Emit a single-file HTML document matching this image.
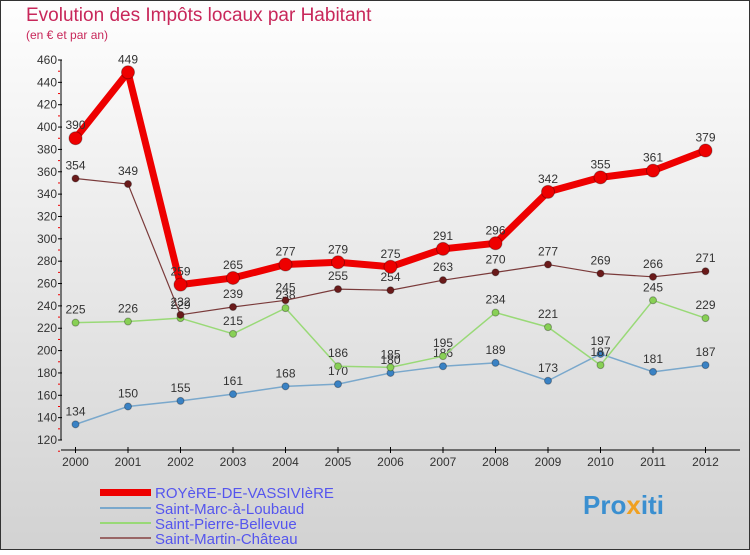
<!DOCTYPE html>
<html><head><meta charset="utf-8"><style>
body{margin:0}
#c{width:750px;height:550px;position:relative;font-family:"Liberation Sans",sans-serif}
</style></head><body>
<div id="c">
<svg id="s" width="750" height="550" xmlns="http://www.w3.org/2000/svg">
<defs><linearGradient id="bg" x1="0" y1="0" x2="0" y2="1"><stop offset="0" stop-color="#fefefe"/><stop offset="1" stop-color="#d2d2d2"/></linearGradient></defs>
<rect x="0.5" y="0.5" width="749" height="549" fill="url(#bg)" stroke="#333"/>
<text x="26" y="21" font-size="19" fill="#c8275a">Evolution des Impôts locaux par Habitant</text>
<text x="26" y="39" font-size="12" fill="#c8275a">(en € et par an)</text>
<g id="axes"></g><g id="series"></g>
<g>
<rect x="100" y="489" width="51" height="7" fill="#e00"/>
<text x="155" y="498" font-size="15" fill="#5555ee">ROYèRE-DE-VASSIVIèRE</text>
<rect x="100" y="507" width="51" height="2" fill="#7aa8cc"/>
<text x="155" y="514" font-size="15" fill="#5555ee">Saint-Marc-à-Loubaud</text>
<rect x="100" y="522" width="51" height="2" fill="#99d977"/>
<text x="155" y="529" font-size="15" fill="#5555ee">Saint-Pierre-Bellevue</text>
<rect x="100" y="537" width="51" height="2" fill="#996666"/>
<text x="155" y="544" font-size="15" fill="#5555ee">Saint-Martin-Château</text>
</g>
<text x="583" y="514" font-size="26" font-weight="bold" fill="#3a8fd0">Pro<tspan fill="#f0a020">x</tspan><tspan fill="#3a8fd0">iti</tspan></text>
</svg>
</div>
<script>
const years=[2000,2001,2002,2003,2004,2005,2006,2007,2008,2009,2010,2011,2012];
const royere=[390,449,259,265,277,279,275,291,296,342,355,361,379];
const saintMarc=[134,150,155,161,168,170,180,186,189,173,197,181,187];
const saintPierre=[225,226,229,215,238,186,185,195,234,221,187,245,229];
const saintMartin=[354,349,232,239,245,255,254,263,270,277,269,266,271];
const yTicks=[120,140,160,180,200,220,240,260,280,300,320,340,360,380,400,420,440,460];
const NS="http://www.w3.org/2000/svg";
const xs=i=>75.5+i*52.5;
const ys=v=>60+(460-v)*380/340;
function mk(tag,at,parent){const e=document.createElementNS(NS,tag);for(const k in at)e.setAttribute(k,at[k]);parent.appendChild(e);return e;}
const ax=document.getElementById('axes'),sr=document.getElementById('series');
let l=mk('line',{x1:61,y1:ys(460),x2:61,y2:ys(120),stroke:'#000'},ax);


l=mk('line',{x1:61,y1:450,x2:740,y2:450,stroke:'#000'},ax);


yTicks.forEach(v=>{const y=ys(v);
 mk('line',{x1:58,y1:y,x2:62,y2:y,stroke:'#000'},ax);
 mk('line',{x1:58,y1:y+y*0+11.2/1,x2:60,y2:y+11.2,stroke:'#e00'},ax);
 const t=mk('text',{x:57,y:y+4,'font-size':12,fill:'#333','text-anchor':'end'},ax);t.textContent=v;
 
 });
years.forEach((yr,i)=>{const x=xs(i);
 mk('line',{x1:x,y1:447,x2:x,y2:453,stroke:'#000'},ax);
 const t=mk('text',{x:x,y:466,'font-size':12,fill:'#333','text-anchor':'middle'},ax);t.textContent=yr;
 
 });
function series(vals,name,col,w,r,dot){
 const g=mk('g',{},sr);
 
 
 mk('polyline',{points:vals.map((v,i)=>xs(i)+','+ys(v)).join(' '),fill:'none',stroke:col,'stroke-width':w,'stroke-linejoin':'round'},g);
 vals.forEach((v,i)=>{const c=mk('circle',{cx:xs(i),cy:ys(v),r:r,fill:dot,stroke:'rgba(0,0,0,0.3)','stroke-width':1},g);
  
  
  const t=mk('text',{x:xs(i),y:ys(v)-9,'font-size':12,fill:'#333','text-anchor':'middle'},g);t.textContent=v;
  
  });
}
series(saintMarc,'saint-marc-series','#7aa8cc',1.5,3.5,'#3a82c4');
series(saintPierre,'saint-pierre-series','#99d977',1.5,3.5,'#88d055');
series(saintMartin,'saint-martin-series','#7a3a3a',1.2,3.5,'#6a1a1a');
series(royere,'royere-series','#e00',7,6.5,'#e00');
</script>
</body></html>
